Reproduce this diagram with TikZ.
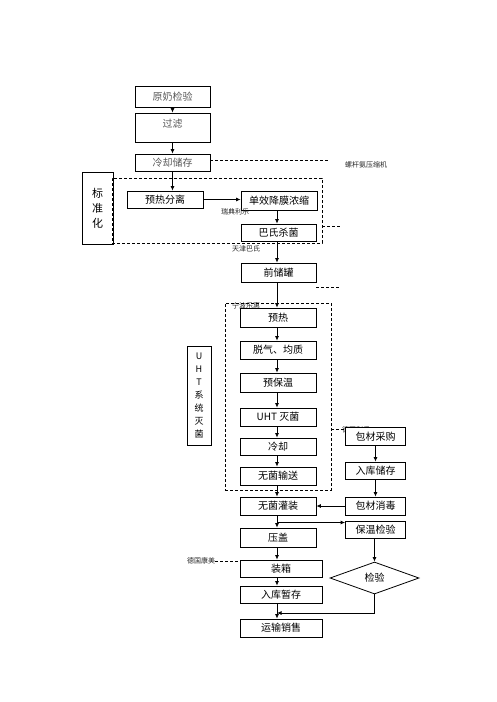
\documentclass[tikz,border=0pt]{standalone}
\usepackage{fontspec}
\setmainfont{Noto Sans CJK SC}
\usetikzlibrary{arrows.meta,shapes.geometric}
\begin{document}
\begin{tikzpicture}[x=1pt,y=-1pt,
  box/.style={draw, line width=0.8pt, fill=white, inner sep=0pt, font=\fontsize{10}{12}\selectfont},
  gbox/.style={box, text=black!65},
  lbl/.style={font=\fontsize{7}{8}\selectfont, inner sep=0pt, text=black!85, anchor=west},
  dsh/.style={line width=0.7pt, dash pattern=on 3pt off 2pt},
  grp/.style={draw, dsh, inner sep=0pt},
  arr/.style={line width=0.8pt, -{Latex[length=4.5pt,width=4pt]}},
  ln/.style={line width=0.8pt}]
\useasboundingbox (0,0) rectangle (496,702);
\coordinate (c1) at (172.5,0);
\coordinate (c2) at (277,0);
\coordinate (c3) at (375.5,0);

% top column
\node[gbox, minimum width=75, minimum height=21] (raw) at (172.5,96.5) {原奶检验};
\node[box, minimum width=75, minimum height=29] (filt) at (172.5,127.5) {};
\node[inner sep=0pt, text=black!65, font=\fontsize{10}{12}\selectfont] (filtt) at (172.5,124) {过滤};
\node[gbox, minimum width=75, minimum height=17] (cool) at (172.5,162.5) {冷却储存};
\node[box, minimum width=31, minimum height=72, align=center, font=\fontsize{11}{15}\selectfont] (std) at (97.5,208) {标\\准\\化};

% group 1
\node[grp, minimum width=210, minimum height=65] (grp1) at (217,210.5) {};
\node[box, minimum width=76, minimum height=17] (sep) at (165,199.5) {预热分离};
\node[box, minimum width=76, minimum height=19] (conc) at (279,200.5) {单效降膜浓缩};
\node[box, minimum width=75, minimum height=17] (past) at (278.5,232.5) {巴氏杀菌};
\node[box, minimum width=75, minimum height=19] (pre) at (278.5,272.5) {前储罐};

% labels
\node[lbl] (lsc) at (345,165) {螺杆氨压缩机};
\node[lbl] (lrd) at (221,212) {瑞典利乐};
\node[lbl] (ltj) at (232,249) {天津巴氏};
\node[lbl] (lnb) at (232,306) {宁波乐惠};
\node[lbl] (lde) at (342,429.5) {德国利乐};
\node[lbl] (lkm) at (187,561) {德国康美};

% group 2
\node[grp, minimum width=106, minimum height=187] (grp2) at (278,396.5) {};
\node[box, minimum width=76, minimum height=19] (ph) at (278,317.5) {预热};
\node[box, minimum width=76, minimum height=18] (deg) at (278,350) {脱气、均质};
\node[box, minimum width=76, minimum height=19] (phw) at (278,382.5) {预保温};
\node[box, minimum width=76, minimum height=18] (uht) at (278,417) {UHT 灭菌};
\node[box, minimum width=76, minimum height=17] (cl) at (278,446.5) {冷却};
\node[box, minimum width=76, minimum height=18] (asep) at (278,476) {无菌输送};
\node[box, minimum width=24, minimum height=99, align=center, font=\fontsize{9}{13}\selectfont] (uhtsys) at (199,395.5) {U\\H\\T\\系\\统\\灭\\菌};

% lower column
\node[box, minimum width=76, minimum height=18] (fill) at (278,506) {无菌灌装};
\node[box, minimum width=76, minimum height=19] (cap) at (278,537.5) {压盖};
\node[box, minimum width=82, minimum height=17] (pack) at (281,568.5) {装箱};
\node[box, minimum width=82, minimum height=17] (store) at (281,594.5) {入库暂存};
\node[box, minimum width=82, minimum height=18] (sale) at (281,628) {运输销售};

% right column
\node[box, minimum width=60, minimum height=18] (buy) at (375.5,436.5) {包材采购};
\node[box, minimum width=60, minimum height=17] (wh) at (375.5,470.5) {入库储存};
\node[box, minimum width=60, minimum height=18] (dis) at (375.5,506) {包材消毒};
\node[box, minimum width=60, minimum height=17] (hold) at (375.5,529.5) {保温检验};
\node[draw, line width=0.8pt, diamond, aspect=2.8, minimum width=89, minimum height=32, inner sep=0pt, font=\fontsize{10}{12}\selectfont] (chk) at (374.5,578) {检验};

% dashed leaders
\coordinate (d1e) at (330,160);
\draw[dsh] (cool.east |- d1e) -- (d1e);
\coordinate (d2e) at (340,226);
\draw[dsh] (grp1.east |- d2e) -- (d2e);
\coordinate (d3s) at (316,287);
\coordinate (d3e) at (340,287);
\draw[dsh] (d3s) -- (d3e);
\coordinate (d4) at (0,429);
\draw[dsh] (grp2.east |- d4) -- (buy.west |- d4);
\draw[dsh] (lkm.east) -- (pack.west |- lkm.east);

% arrows
\draw[arr] (raw.south -| c1) -- (filt.north -| c1);
\draw[arr] (filt.south -| c1) -- (cool.north -| c1);
\draw[arr] (cool.south -| c1) -- (sep.north -| c1);
\draw[arr] (sep.east) -- (sep.east -| conc.west);
\draw[arr] (conc.south -| c2) -- (past.north -| c2);
\draw[arr] (past.south -| c2) -- (pre.north -| c2);
\draw[arr] (pre.south -| c2) -- (ph.north -| c2);
\draw[arr] (ph.south -| c2) -- (deg.north -| c2);
\draw[arr] (deg.south -| c2) -- (phw.north -| c2);
\draw[arr] (phw.south -| c2) -- (uht.north -| c2);
\draw[arr] (uht.south -| c2) -- (cl.north -| c2);
\draw[arr] (cl.south -| c2) -- (asep.north -| c2);
\draw[arr] (asep.south -| c2) -- (fill.north -| c2);
\draw[arr] (fill.south -| c2) -- (cap.north -| c2);
\draw[arr] (cap.south -| c2) -- (pack.north -| c2);
\draw[arr] (pack.south -| c2) -- (store.north -| c2);
\draw[arr] (store.south -| c2) -- (sale.north -| c2);

\draw[arr] (buy.south -| c3) -- (wh.north -| c3);
\draw[arr] (wh.south -| c3) -- (dis.north -| c3);
\draw[arr] (hold.south -| chk.north) -- (chk.north);
\draw[arr] (dis.west) -- (fill.east);
\coordinate (br) at (277,522.5);
\draw[arr] (br) -- (hold.west |- br);
\coordinate (jn) at (277,613);
\draw[arr] (chk.south) |- (jn);
\end{tikzpicture}
\end{document}
